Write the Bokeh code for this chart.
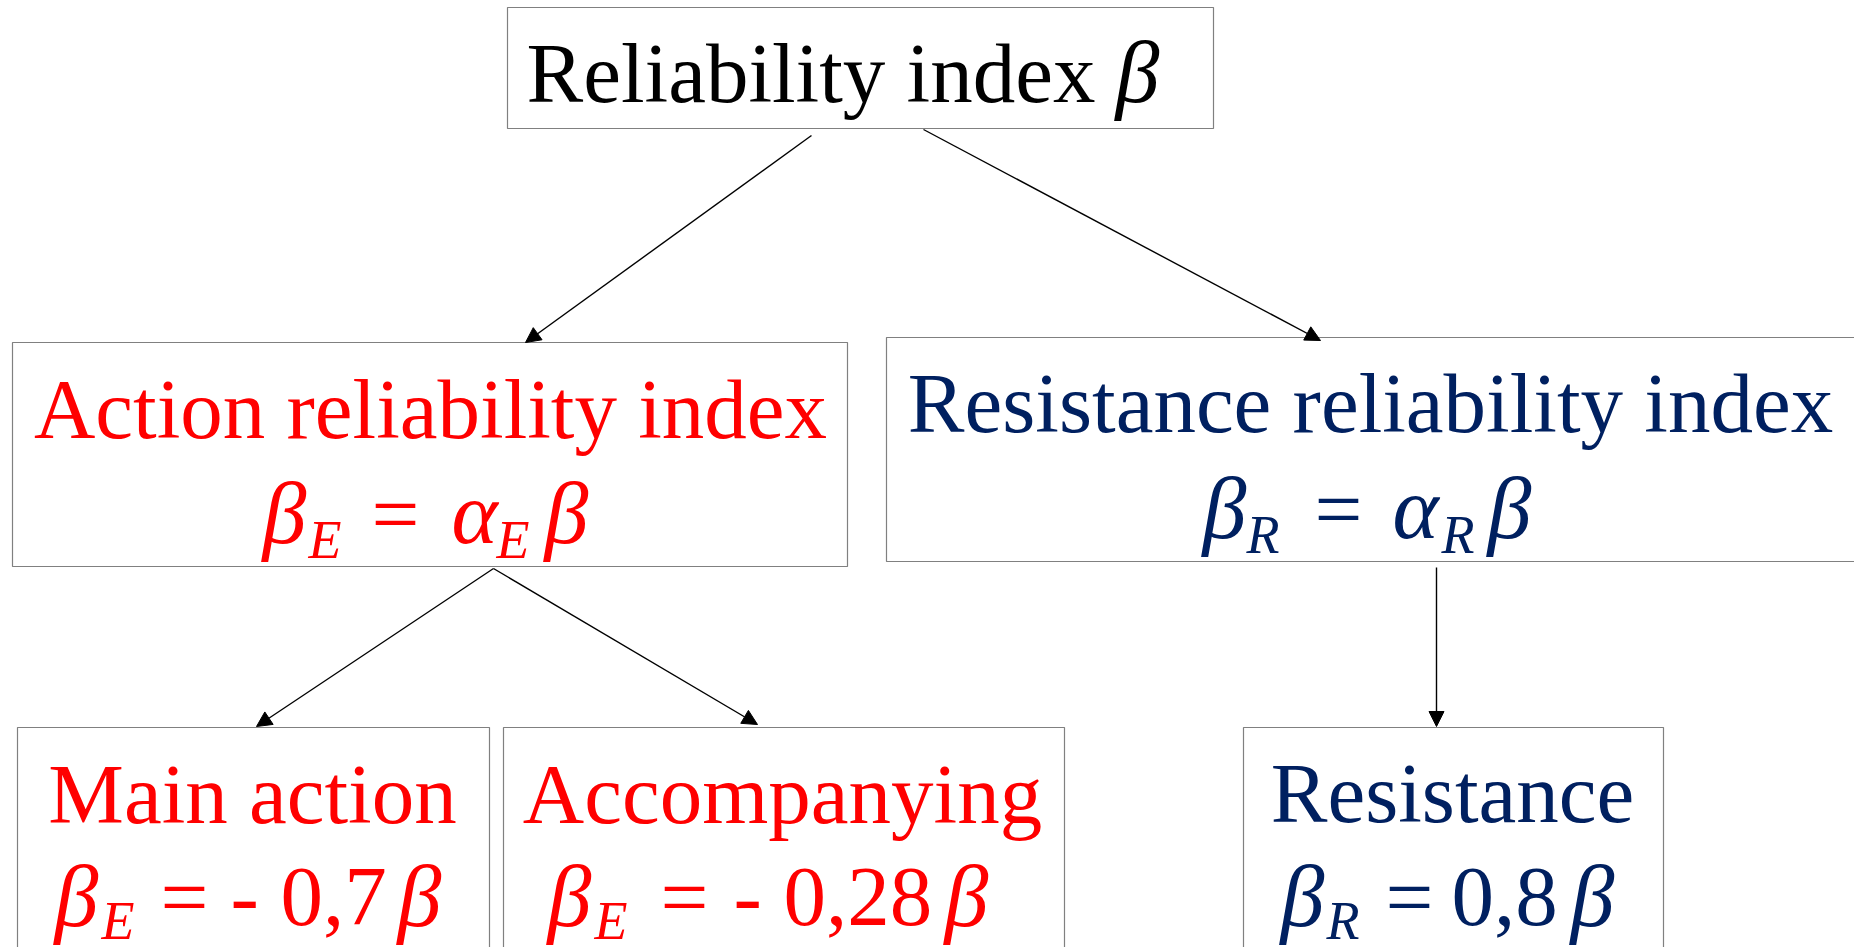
from bokeh.plotting import figure
from bokeh.models import Range1d, Arrow, NormalHead
from bokeh.core.properties import value
from bokeh.embed import file_html
from bokeh.resources import INLINE

# ---------------- data ----------------
root_label = "Reliability index"
level1_labels = ["Action reliability index", "Resistance reliability index"]
level2_labels = ["Main action", "Accompanying", "Resistance"]
beta = "β"
alpha = "α"
subs = ["E", "R", "E", "E", "R"]               # subscripts of beta in each node formula
factors = ["α", "α", "- 0,7", "- 0,28", "0,8"]  # coefficient of beta in each node formula

RED = "#FF0000"
NAVY = "#002060"
BORDER = "#808080"
FONT = "Liberation Serif"
BIG = 85
GREEK = 88
SMALL = 54
SHIFT = 0.30   # baseline correction (fraction of font size)

W, H = 1854, 947
p = figure(width=W, height=H, output_backend="svg", toolbar_location=None,
           x_range=Range1d(0, W), y_range=Range1d(H, 0),
           x_axis_type=None, y_axis_type=None, min_border=0)
p.grid.visible = False
p.outline_line_color = None
p.background_fill_color = "white"
p.border_fill_color = "white"

# boxes: left, right, top, bottom (page pixels)
box_l = [507, 12, 886, 17, 503, 1243]
box_r = [1213, 847, 1900, 489, 1064, 1663]
box_t = [7, 342, 337, 727, 727, 727]
box_b = [128, 566, 561, 990, 990, 990]
p.quad(left=box_l, right=box_r, top=box_t, bottom=box_b,
       fill_color=None, line_color=BORDER, line_width=1.2)

# arrows
arrows = [((811, 135), (525, 342)),
          ((923, 129), (1320, 340)),
          ((493, 568), (256, 726)),
          ((493, 568), (757, 724)),
          ((1436, 567), (1436, 726))]
for (x0, y0), (x1, y1) in arrows:
    p.add_layout(Arrow(x_start=x0, y_start=y0, x_end=x1, y_end=y1,
                       line_color="black", line_width=1.4,
                       end=NormalHead(size=15, fill_color="black", line_color="black", line_width=1)))


def txt(x, y, s, color, size=BIG, italic=False, align="left"):
    p.text(x=[x], y=[y - SHIFT * size], text=[s], text_color=color,
           text_font=value(FONT), text_font_size=value(f"{size}px"),
           text_font_style="italic" if italic else "normal",
           text_align=align, text_baseline="alphabetic")


# root
txt(526, 98, root_label, "black")
txt(1115, 98, beta, "black", GREEK, italic=True)

# level 1 titles
txt(430, 434, level1_labels[0], RED, align="center")
txt(1370, 428, level1_labels[1], NAVY, align="center")

# level 2 titles
txt(252, 819, level2_labels[0], RED, align="center")
txt(782, 819, level2_labels[1], RED, align="center")
txt(1452, 818, level2_labels[2], NAVY, align="center")

# formulas: beta_sub = factor(_sub) beta
# F1: action index
txt(262, 539, beta, RED, GREEK, italic=True)
txt(308, 556, subs[0], RED, SMALL, italic=True)
txt(371, 539, "=", RED)
txt(451, 539, factors[0], RED, GREEK, italic=True)
txt(496, 556, subs[0], RED, SMALL, italic=True)
txt(544, 539, beta, RED, GREEK, italic=True)

# F2: resistance index
txt(1202, 534, beta, NAVY, GREEK, italic=True)
txt(1246, 551, subs[1], NAVY, SMALL, italic=True)
txt(1314, 534, "=", NAVY)
txt(1392, 534, factors[1], NAVY, GREEK, italic=True)
txt(1441, 551, subs[1], NAVY, SMALL, italic=True)
txt(1487, 534, beta, NAVY, GREEK, italic=True)

# F3: main action
txt(54, 922, beta, RED, GREEK, italic=True)
txt(101, 937, subs[2], RED, SMALL, italic=True)
txt(160, 922, "=", RED)
txt(230, 922, factors[2].split(" ")[0], RED)
txt(280, 922, factors[2].split(" ")[1], RED)
txt(397, 922, beta, RED, GREEK, italic=True)

# F4: accompanying
txt(547, 922, beta, RED, GREEK, italic=True)
txt(594, 937, subs[3], RED, SMALL, italic=True)
txt(660, 922, "=", RED)
txt(733, 922, factors[3].split(" ")[0], RED)
txt(783, 922, factors[3].split(" ")[1], RED)
txt(944, 922, beta, RED, GREEK, italic=True)

# F5: resistance
txt(1280, 922, beta, NAVY, GREEK, italic=True)
txt(1326, 937, subs[4], NAVY, SMALL, italic=True)
txt(1385, 922, "=", NAVY)
txt(1451, 922, factors[4], NAVY)
txt(1570, 922, beta, NAVY, GREEK, italic=True)

open("out.html", "w").write(file_html(p, INLINE))
